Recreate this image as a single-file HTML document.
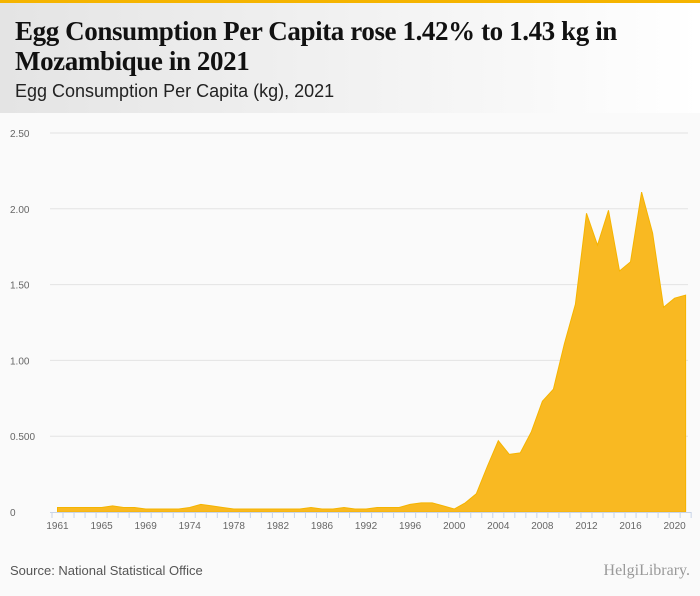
<!DOCTYPE html>
<html><head><meta charset="utf-8"><style>
body{margin:0;width:700px;height:596px;background:#fafafa;font-family:"Liberation Sans",sans-serif;overflow:hidden;position:relative}
#hdr{position:absolute;left:0;top:0;width:700px;height:113px;background:linear-gradient(90deg,#e4e4e4,#ffffff)}
#bar{position:absolute;left:0;top:0;width:700px;height:3px;background:#f5b400}
h1{position:absolute;left:15px;top:16px;margin:0;font:bold 27px/30px "Liberation Serif",serif;color:#111;letter-spacing:-0.4px;width:690px}
#sub{position:absolute;left:15px;top:81px;font-size:18px;color:#222}
#src{position:absolute;left:10px;top:563px;font-size:13px;color:#555}
#logo{position:absolute;right:10px;top:562px;font:16px "Liberation Serif",serif;color:#999}
svg{position:absolute;left:0;top:0}
</style></head><body>
<div id="hdr"></div>
<div id="bar"></div>
<h1>Egg Consumption Per Capita rose 1.42% to 1.43 kg in Mozambique in 2021</h1>
<div id="sub">Egg Consumption Per Capita (kg), 2021</div>
<svg id="chart" width="700" height="596"></svg>
<div id="src">Source: National Statistical Office</div>
<div id="logo">HelgiLibrary.</div>
<script>
const years=[1961,1962,1963,1964,1965,1966,1967,1968,1969,1971,1972,1973,1974,1975,1976,1977,1978,1979,1980,1981,1982,1983,1984,1985,1986,1987,1990,1991,1992,1993,1994,1995,1996,1997,1998,1999,2000,2001,2002,2003,2004,2005,2006,2007,2008,2009,2010,2011,2012,2013,2014,2015,2016,2017,2018,2019,2020,2021];
const values=[0.03,0.03,0.03,0.03,0.03,0.04,0.03,0.03,0.02,0.02,0.02,0.02,0.03,0.05,0.04,0.03,0.02,0.02,0.02,0.02,0.02,0.02,0.02,0.03,0.02,0.02,0.03,0.02,0.02,0.03,0.03,0.03,0.05,0.06,0.06,0.04,0.02,0.06,0.12,0.30,0.47,0.38,0.39,0.53,0.73,0.81,1.11,1.37,1.97,1.76,1.99,1.59,1.65,2.11,1.84,1.35,1.41,1.43];
const yTicks=[0,0.5,1,1.5,2,2.5];
const yTickLabels=["0","0.500","1.00","1.50","2.00","2.50"];
const NS="http://www.w3.org/2000/svg",svg=document.getElementById('chart');
const x0=57.5,step=11.02,yBase=512,yScale=151.6;
const X=i=>x0+i*step, Y=v=>yBase-v*yScale;
function mk(t,a){const e=document.createElementNS(NS,t);for(const k in a)e.setAttribute(k,a[k]);svg.appendChild(e);return e;}
yTicks.forEach((t,i)=>{
 if(t>0){const g=mk('line',{x1:50,x2:688,y1:Y(t),y2:Y(t),stroke:'#e3e3e3','stroke-width':1});
 
 }
 const l=mk('text',{x:10,y:Y(t)+4,'font-size':10,fill:'#666','font-family':'Liberation Sans'});l.textContent=yTickLabels[i];
 
 
});
let d='M'+X(0)+','+yBase;
values.forEach((v,i)=>{d+=' L'+X(i).toFixed(1)+','+Y(v).toFixed(1);});
d+=' L'+X(values.length-1)+','+yBase+' Z';
const area=mk('path',{d:d,fill:'#f9b922',stroke:'#f5b400','stroke-width':1});


const ax=mk('line',{x1:50,x2:691,y1:yBase+0.5,y2:yBase+0.5,stroke:'#c8d4e8','stroke-width':1});


for(let i=0;i<=years.length;i++){const tx=X(i)-step/2;
 const tk=mk('line',{x1:tx,x2:tx,y1:yBase,y2:yBase+6,stroke:'#c8d4e8'});
 
 }
years.forEach((yr,i)=>{if(i%4===0){const l=mk('text',{x:X(i),y:yBase+17,'font-size':10,fill:'#666','text-anchor':'middle','font-family':'Liberation Sans'});l.textContent=yr;
 
 }});
</script>
</body></html>
